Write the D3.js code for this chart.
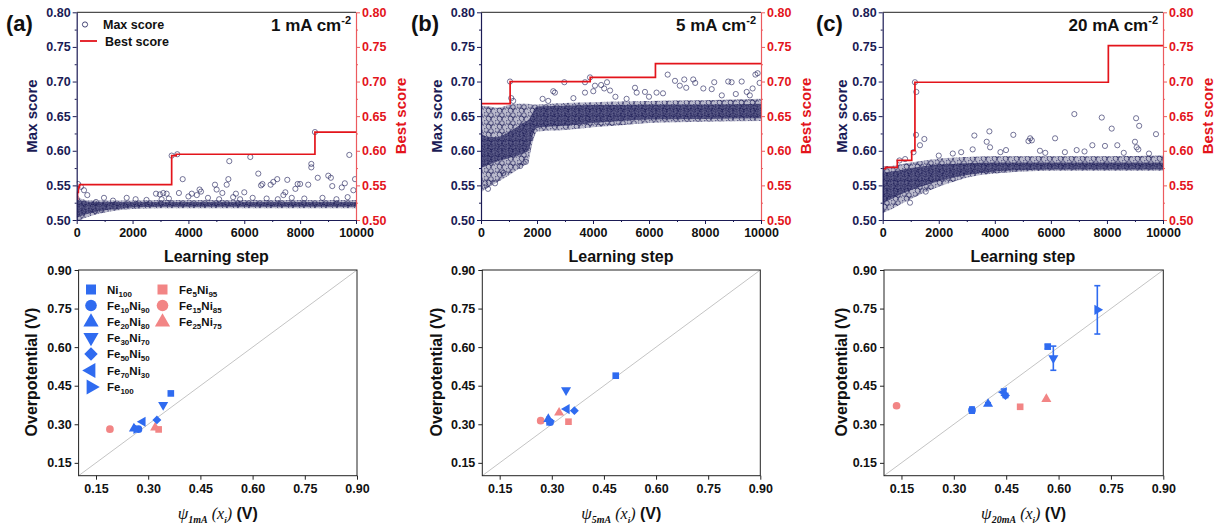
<!DOCTYPE html>
<html>
<head>
<meta charset="utf-8">
<script src="https://cdn.jsdelivr.net/npm/d3@7"></script>
<style>
  body { margin: 0; background: #fff; }
  text { font-family: "Liberation Sans", Arial, sans-serif; font-weight: bold; }
</style>
</head>
<body>
<script>
// ---- top row: learning curves ----
var currents = ["1", "5", "20"];
var panelTags = ["(a)", "(b)", "(c)"];

// dense band of "max score" circles (envelopes)
var bandStepsA = [0, 100, 300, 600, 1000, 1500, 2000, 3000, 6000, 10000];
var spreadLoA = [0.500, 0.500, 0.503, 0.507, 0.511, 0.514, 0.516, 0.517, 0.517, 0.517];
var spreadHiA = [0.540, 0.532, 0.529, 0.528, 0.528, 0.528, 0.528, 0.529, 0.529, 0.529];
var coreLoA = [0.503, 0.505, 0.508, 0.511, 0.514, 0.516, 0.518, 0.519, 0.519, 0.519];
var coreHiA = [0.530, 0.528, 0.527, 0.526, 0.526, 0.526, 0.526, 0.526, 0.526, 0.526];

var bandStepsB = [0, 300, 600, 900, 1200, 1500, 1700, 1800, 1900, 2000, 3000, 4000, 5000, 6000, 8000, 10000];
var spreadLoB = [0.540, 0.548, 0.555, 0.562, 0.570, 0.578, 0.585, 0.605, 0.620, 0.628, 0.630, 0.634, 0.637, 0.640, 0.642, 0.643];
var spreadHiB = [0.665, 0.664, 0.662, 0.665, 0.668, 0.668, 0.668, 0.667, 0.667, 0.667, 0.669, 0.670, 0.671, 0.672, 0.673, 0.675];
var coreLoB = [0.575, 0.580, 0.585, 0.588, 0.592, 0.596, 0.600, 0.615, 0.628, 0.633, 0.636, 0.640, 0.643, 0.645, 0.646, 0.647];
var coreHiB = [0.625, 0.620, 0.620, 0.625, 0.632, 0.640, 0.645, 0.650, 0.660, 0.664, 0.665, 0.666, 0.666, 0.667, 0.667, 0.668];

var bandStepsC = [0, 300, 600, 1000, 1500, 2000, 2500, 3000, 4000, 5000, 6000, 8000, 10000];
var spreadLoC = [0.510, 0.515, 0.522, 0.530, 0.540, 0.548, 0.555, 0.561, 0.567, 0.570, 0.571, 0.571, 0.571];
var spreadHiC = [0.578, 0.578, 0.580, 0.583, 0.586, 0.589, 0.590, 0.591, 0.592, 0.592, 0.592, 0.592, 0.593];
var coreLoC = [0.525, 0.530, 0.536, 0.543, 0.550, 0.556, 0.561, 0.565, 0.570, 0.572, 0.573, 0.573, 0.573];
var coreHiC = [0.568, 0.570, 0.572, 0.575, 0.578, 0.580, 0.581, 0.582, 0.583, 0.583, 0.583, 0.583, 0.583];

// individual circles standing out of the band
var outStepsA = [50, 150, 261, 380, 691, 977, 1300, 1790, 2110, 2500, 2839, 2980, 3040, 3100, 3220, 3300, 3400, 3600, 3660, 3795, 4000, 4120, 4300, 4400, 4450, 4700, 4951, 5010, 5100, 5215, 5370, 5430, 5463, 5600, 5700, 5850, 6000, 6215, 6300, 6502, 6600, 6650, 6800, 6943, 7040, 7180, 7200, 7400, 7470, 7540, 7700, 7830, 7910, 8000, 8150, 8290, 8400, 8400, 8530, 8630, 8800, 9008, 9100, 9150, 9300, 9490, 9600, 9700, 9760, 9905, 9965];
var outValsA = [0.552, 0.548, 0.543, 0.536, 0.526, 0.532, 0.528, 0.532, 0.530, 0.529, 0.538, 0.537, 0.530, 0.539, 0.538, 0.531, 0.593, 0.595, 0.539, 0.559, 0.534, 0.538, 0.536, 0.544, 0.541, 0.532, 0.551, 0.544, 0.530, 0.539, 0.551, 0.559, 0.585, 0.533, 0.538, 0.530, 0.540, 0.591, 0.532, 0.567, 0.550, 0.552, 0.531, 0.551, 0.555, 0.559, 0.530, 0.536, 0.540, 0.558, 0.532, 0.545, 0.552, 0.552, 0.531, 0.551, 0.581, 0.576, 0.627, 0.561, 0.532, 0.564, 0.561, 0.549, 0.530, 0.547, 0.553, 0.533, 0.594, 0.543, 0.559];

var outStepsB = [150, 250, 500, 800, 1036, 1080, 1150, 1400, 1600, 2200, 2400, 2580, 2640, 2976, 3300, 3714, 3714, 3893, 4010, 4070, 4290, 4400, 4500, 4610, 4800, 5200, 5500, 5560, 5856, 6000, 6270, 6500, 6667, 6929, 7100, 7260, 7330, 7580, 7650, 7940, 8240, 8330, 8600, 8830, 8950, 9100, 9310, 9490, 9600, 9700, 9800, 9880, 9950];
var outValsB = [0.553, 0.545, 0.553, 0.568, 0.700, 0.676, 0.672, 0.578, 0.584, 0.675, 0.672, 0.686, 0.684, 0.699, 0.676, 0.699, 0.684, 0.706, 0.686, 0.694, 0.695, 0.690, 0.699, 0.687, 0.678, 0.675, 0.691, 0.684, 0.685, 0.678, 0.684, 0.683, 0.710, 0.701, 0.694, 0.703, 0.691, 0.703, 0.698, 0.690, 0.689, 0.699, 0.680, 0.700, 0.699, 0.682, 0.700, 0.685, 0.680, 0.690, 0.710, 0.712, 0.698];

var outStepsC = [600, 800, 974, 1100, 1150, 1188, 1200, 1330, 1486, 1534, 2000, 2500, 2800, 3210, 3270, 3710, 3806, 3830, 4200, 4400, 4660, 5200, 5260, 5320, 5610, 5800, 6150, 6500, 6837, 6920, 7200, 7480, 7815, 7930, 8170, 8370, 8600, 9000, 9040, 9060, 9120, 9150, 9500, 9750];
var outValsC = [0.586, 0.588, 0.525, 0.598, 0.699, 0.623, 0.685, 0.608, 0.617, 0.541, 0.593, 0.596, 0.598, 0.602, 0.622, 0.613, 0.628, 0.605, 0.598, 0.601, 0.623, 0.614, 0.618, 0.615, 0.600, 0.597, 0.618, 0.598, 0.653, 0.601, 0.599, 0.608, 0.648, 0.607, 0.632, 0.608, 0.597, 0.613, 0.647, 0.605, 0.602, 0.636, 0.596, 0.624];

// best score staircase
var bestStepsA = [0, 30, 60, 100, 3400, 3560, 8530, 10000];
var bestValsA = [0.530, 0.540, 0.547, 0.551, 0.593, 0.595, 0.627, 0.627];
var bestStepsB = [0, 1040, 3900, 6230, 10000];
var bestValsB = [0.668, 0.700, 0.706, 0.726, 0.726];
var bestStepsC = [0, 100, 520, 1035, 1150, 8050, 10000];
var bestValsC = [0.574, 0.576, 0.586, 0.600, 0.699, 0.752, 0.752];

var scoreTicks = [0.50, 0.55, 0.60, 0.65, 0.70, 0.75, 0.80];
var stepTicks = [0, 2000, 4000, 6000, 8000, 10000];

// ---- bottom row: overpotential vs predicted ----
var alloyEl = [["Ni"], ["Fe", "Ni"], ["Fe", "Ni"], ["Fe", "Ni"], ["Fe", "Ni"], ["Fe", "Ni"], ["Fe"], ["Fe", "Ni"], ["Fe", "Ni"], ["Fe", "Ni"]];
var alloySub = [["100"], ["10", "90"], ["20", "80"], ["30", "70"], ["50", "50"], ["70", "30"], ["100"], ["5", "95"], ["15", "85"], ["25", "75"]];
var alloyShape = ["square", "circle", "up", "down", "diamond", "left", "right", "square", "circle", "up"];
var alloyGroup = ["blue", "blue", "blue", "blue", "blue", "blue", "blue", "pink", "pink", "pink"];

var psi1 = [0.365, 0.272, 0.259, 0.343, 0.325, 0.284, 0.266, 0.330, 0.190, 0.320];
var eta1 = [0.420, 0.281, 0.283, 0.375, 0.317, 0.310, 0.282, 0.280, 0.281, 0.287];
var psi5 = [0.484, 0.295, 0.290, 0.341, 0.365, 0.343, 0.293, 0.348, 0.268, 0.321];
var eta5 = [0.489, 0.308, 0.320, 0.433, 0.353, 0.359, 0.313, 0.310, 0.314, 0.345];
var psi20 = [0.569, 0.352, 0.398, 0.585, 0.448, 0.443, 0.711, 0.490, 0.136, 0.565];
var eta20 = [0.602, 0.355, 0.379, 0.557, 0.412, 0.425, 0.745, 0.368, 0.372, 0.398];
var err20 = [0.008, 0.012, 0.005, 0.047, 0.008, 0.012, 0.094, 0, 0, 0];

var vTicks = [0.15, 0.30, 0.45, 0.60, 0.75, 0.90];

var NAVY = "#1b1b55", RED = "#e3141b", REDAXIS = "#ec5a5e";
var BLUE = "#2f6bf0", PINK = "#f28585";

var svg = d3.select("body").append("svg")
    .attr("width", 1221).attr("height", 528);

var defs = svg.append("defs");
var sparse = defs.append("pattern").attr("id", "dotsSparse")
    .attr("patternUnits", "userSpaceOnUse").attr("width", 11).attr("height", 8);
sparse.append("rect").attr("width", 11).attr("height", 8).attr("fill", NAVY).attr("opacity", 0.3);
[[2, 2], [7, 3], [4.5, 6.5], [9.5, 7]].forEach(function (p) {
    sparse.append("circle").attr("cx", p[0]).attr("cy", p[1]).attr("r", 2.3)
        .attr("fill", "none").attr("stroke", NAVY).attr("stroke-width", 0.75).attr("opacity", 0.85);
});
var dense = defs.append("pattern").attr("id", "dotsDense")
    .attr("patternUnits", "userSpaceOnUse").attr("width", 7).attr("height", 5);
dense.append("rect").attr("width", 7).attr("height", 5).attr("fill", NAVY).attr("opacity", 0.75);
[[1.5, 1.5], [5, 3.5]].forEach(function (p) {
    dense.append("circle").attr("cx", p[0]).attr("cy", p[1]).attr("r", 1.8)
        .attr("fill", "none").attr("stroke", "#8a8ab0").attr("stroke-width", 0.5).attr("opacity", 0.7);
});

var topY0 = 12.3, topY1 = 220;

var tops = [
    { x0: 76.7, x1: 356, off: 0, steps: bandStepsA, sLo: spreadLoA, sHi: spreadHiA, cLo: coreLoA, cHi: coreHiA,
      oS: outStepsA, oV: outValsA, bS: bestStepsA, bV: bestValsA, legend: true },
    { x0: 481, x1: 761, off: 405, steps: bandStepsB, sLo: spreadLoB, sHi: spreadHiB, cLo: coreLoB, cHi: coreHiB,
      oS: outStepsB, oV: outValsB, bS: bestStepsB, bV: bestValsB, legend: false },
    { x0: 882.7, x1: 1163, off: 810, steps: bandStepsC, sLo: spreadLoC, sHi: spreadHiC, cLo: coreLoC, cHi: coreHiC,
      oS: outStepsC, oV: outValsC, bS: bestStepsC, bV: bestValsC, legend: false }
];

tops.forEach(function (p, i) {
    var x = d3.scaleLinear().domain([0, 10000]).range([p.x0, p.x1]);
    var y = d3.scaleLinear().domain([0.5, 0.8]).range([topY1, topY0]);
    var g = svg.append("g");

    var clipId = "clipTop" + i;
    defs.append("clipPath").attr("id", clipId).append("rect")
        .attr("x", p.x0).attr("y", topY0).attr("width", p.x1 - p.x0).attr("height", topY1 - topY0);
    var plot = g.append("g").attr("clip-path", "url(#" + clipId + ")");

    var idx = d3.range(p.steps.length);
    var spreadArea = d3.area().x(function (k) { return x(p.steps[k]); })
        .y0(function (k) { return y(p.sLo[k]); }).y1(function (k) { return y(p.sHi[k]); })
        .curve(d3.curveMonotoneX);
    var coreArea = d3.area().x(function (k) { return x(p.steps[k]); })
        .y0(function (k) { return y(p.cLo[k]); }).y1(function (k) { return y(p.cHi[k]); })
        .curve(d3.curveMonotoneX);
    plot.append("path").attr("d", spreadArea(idx)).attr("fill", "url(#dotsSparse)");
    plot.append("path").attr("d", coreArea(idx)).attr("fill", "url(#dotsDense)");

    plot.selectAll("circle.out").data(d3.range(p.oS.length)).enter().append("circle")
        .attr("class", "out")
        .attr("cx", function (k) { return x(p.oS[k]); })
        .attr("cy", function (k) { return y(p.oV[k]); })
        .attr("r", 2.6).attr("fill", "none")
        .attr("stroke", NAVY).attr("stroke-width", 0.8).attr("opacity", 0.75);

    var bestLine = d3.line().x(function (k) { return x(p.bS[k]); })
        .y(function (k) { return y(p.bV[k]); }).curve(d3.curveStepAfter);
    plot.append("path").attr("d", bestLine(d3.range(p.bS.length)))
        .attr("fill", "none").attr("stroke", RED).attr("stroke-width", 1.7);

    // frame top
    g.append("line").attr("x1", p.x0).attr("x2", p.x1).attr("y1", topY0).attr("y2", topY0)
        .attr("stroke", "#222").attr("stroke-width", 1);

    var minorY = [0.525, 0.575, 0.625, 0.675, 0.725, 0.775];
    // left axis
    var gl = g.append("g").attr("transform", "translate(" + p.x0 + ",0)")
        .call(d3.axisLeft(y).tickValues(scoreTicks).tickFormat(d3.format(".2f")).tickSize(4).tickSizeOuter(0));
    g.append("g").attr("transform", "translate(" + p.x0 + ",0)")
        .call(d3.axisLeft(y).tickValues(minorY).tickFormat("").tickSize(2).tickSizeOuter(0))
        .call(function (s) { s.select(".domain").remove(); s.selectAll("line").attr("stroke", NAVY); });
    gl.select(".domain").attr("stroke", NAVY).attr("stroke-width", 1.2);
    gl.selectAll("line").attr("stroke", NAVY);
    gl.selectAll("text").attr("fill", NAVY).style("font-size", "12.5px").attr("x", -6);

    // right axis
    var gr = g.append("g").attr("transform", "translate(" + p.x1 + ",0)")
        .call(d3.axisRight(y).tickValues(scoreTicks).tickFormat(d3.format(".2f")).tickSize(4).tickSizeOuter(0));
    g.append("g").attr("transform", "translate(" + p.x1 + ",0)")
        .call(d3.axisRight(y).tickValues(minorY).tickFormat("").tickSize(2).tickSizeOuter(0))
        .call(function (s) { s.select(".domain").remove(); s.selectAll("line").attr("stroke", REDAXIS); });
    gr.select(".domain").attr("stroke", REDAXIS).attr("stroke-width", 1.2);
    gr.selectAll("line").attr("stroke", REDAXIS);
    gr.selectAll("text").attr("fill", RED).style("font-size", "12.5px").attr("x", 6);

    // bottom axis
    var gb = g.append("g").attr("transform", "translate(0," + topY1 + ")")
        .call(d3.axisBottom(x).tickValues(stepTicks).tickFormat(d3.format("d")).tickSize(4).tickSizeOuter(0));
    g.append("g").attr("transform", "translate(0," + topY1 + ")")
        .call(d3.axisBottom(x).tickValues([1000, 3000, 5000, 7000, 9000]).tickFormat("").tickSize(2).tickSizeOuter(0))
        .call(function (s) { s.select(".domain").remove(); s.selectAll("line").attr("stroke", NAVY); });
    gb.select(".domain").attr("stroke", NAVY).attr("stroke-width", 1.2);
    gb.selectAll("line").attr("stroke", NAVY);
    gb.selectAll("text").attr("fill", "#111").style("font-size", "12.5px").attr("y", 8.5);

    // titles
    g.append("text").attr("x", (p.x0 + p.x1) / 2).attr("y", 262).attr("text-anchor", "middle")
        .style("font-size", "16px").attr("fill", "#111").text("Learning step");
    g.append("text").attr("transform", "translate(" + (p.off + 37) + ",116) rotate(-90)")
        .attr("text-anchor", "middle").style("font-size", "15px").attr("fill", NAVY).text("Max score");
    g.append("text").attr("transform", "translate(" + (p.x1 + 50) + ",116) rotate(-90)")
        .attr("text-anchor", "middle").style("font-size", "15px").attr("fill", RED).text("Best score");
    g.append("text").attr("x", p.off + 6).attr("y", 31).style("font-size", "22px").attr("fill", "#111").text(panelTags[i]);

    var cur = g.append("text").attr("x", p.x1 - 5).attr("y", 31).attr("text-anchor", "end")
        .style("font-size", "17px").attr("fill", "#111");
    cur.append("tspan").text(currents[i] + " mA cm");
    cur.append("tspan").attr("dy", -7).style("font-size", "11px").text("-2");

    if (p.legend) {
        g.append("circle").attr("cx", 85).attr("cy", 24.5).attr("r", 2.6).attr("fill", "none")
            .attr("stroke", NAVY).attr("stroke-width", 0.8);
        g.append("text").attr("x", 103).attr("y", 29).style("font-size", "12.5px").attr("fill", "#111").text("Max score");
        g.append("line").attr("x1", 80).attr("x2", 97).attr("y1", 41).attr("y2", 41)
            .attr("stroke", RED).attr("stroke-width", 1.8);
        g.append("text").attr("x", 105).attr("y", 46).style("font-size", "12.5px").attr("fill", "#111").text("Best score");
    }
});

// ---- bottom row ----
var botY0 = 270, botY1 = 475.7;

function markerPath(shape, size) {
    var tri = d3.symbol().type(d3.symbolTriangle).size(size * 0.8)();
    if (shape === "square") return { d: d3.symbol().type(d3.symbolSquare).size(size * 0.8)(), rot: 0 };
    if (shape === "circle") return { d: d3.symbol().type(d3.symbolCircle).size(size * 0.85)(), rot: 0 };
    if (shape === "diamond") return { d: d3.symbol().type(d3.symbolSquare).size(size * 0.72)(), rot: 45 };
    if (shape === "up") return { d: tri, rot: 0 };
    if (shape === "down") return { d: tri, rot: 180 };
    if (shape === "left") return { d: tri, rot: -90 };
    return { d: tri, rot: 90 };
}

var bots = [
    { x0: 78.6, x1: 357, off: 0, xs: psi1, ys: eta1, errs: null, sub: "1mA", legend: true },
    { x0: 482.3, x1: 760.3, off: 405, xs: psi5, ys: eta5, errs: null, sub: "5mA", legend: false },
    { x0: 884, x1: 1163.3, off: 810, xs: psi20, ys: eta20, errs: err20, sub: "20mA", legend: false }
];

bots.forEach(function (p) {
    var x = d3.scaleLinear().domain([0.10, 0.90]).range([p.x0, p.x1]);
    var y = d3.scaleLinear().domain([0.10, 0.90]).range([botY1, botY0]);
    var g = svg.append("g");

    g.append("line").attr("x1", x(0.10)).attr("y1", y(0.10)).attr("x2", x(0.90)).attr("y2", y(0.90))
        .attr("stroke", "#c4c4c4").attr("stroke-width", 1);

    g.append("rect").attr("x", p.x0).attr("y", botY0).attr("width", p.x1 - p.x0).attr("height", botY1 - botY0)
        .attr("fill", "none").attr("stroke", "#222").attr("stroke-width", 1);

    var ga = g.append("g").attr("transform", "translate(" + p.x0 + ",0)")
        .call(d3.axisLeft(y).tickValues(vTicks).tickFormat(d3.format(".2f")).tickSize(4).tickSizeOuter(0));
    ga.select(".domain").remove();
    ga.selectAll("line").attr("stroke", "#222");
    ga.selectAll("text").attr("fill", "#111").style("font-size", "12.5px").attr("x", -7);
    var gx = g.append("g").attr("transform", "translate(0," + botY1 + ")")
        .call(d3.axisBottom(x).tickValues(vTicks).tickFormat(d3.format(".2f")).tickSize(4).tickSizeOuter(0));
    gx.select(".domain").remove();
    gx.selectAll("line").attr("stroke", "#222");
    gx.selectAll("text").attr("fill", "#111").style("font-size", "12.5px").attr("y", 8);

    if (p.errs) {
        p.errs.forEach(function (e, k) {
            if (!e) return;
            var cx = x(p.xs[k]);
            var col = alloyGroup[k] === "blue" ? BLUE : PINK;
            g.append("line").attr("x1", cx).attr("x2", cx)
                .attr("y1", y(p.ys[k] - e)).attr("y2", y(p.ys[k] + e))
                .attr("stroke", col).attr("stroke-width", 1.6);
            [-e, e].forEach(function (s) {
                g.append("line").attr("x1", cx - 3).attr("x2", cx + 3)
                    .attr("y1", y(p.ys[k] + s)).attr("y2", y(p.ys[k] + s))
                    .attr("stroke", col).attr("stroke-width", 1.6);
            });
        });
    }

    // pink first so the blue ones sit on top
    var order = [7, 8, 9, 0, 1, 2, 3, 4, 5, 6];
    order.forEach(function (k) {
        var m = markerPath(alloyShape[k], 55);
        g.append("path").attr("d", m.d)
            .attr("transform", "translate(" + x(p.xs[k]) + "," + y(p.ys[k]) + ") rotate(" + m.rot + ")")
            .attr("fill", alloyGroup[k] === "blue" ? BLUE : PINK);
    });

    g.append("text").attr("transform", "translate(" + (p.off + 37) + ",372) rotate(-90)")
        .attr("text-anchor", "middle").style("font-size", "16px").attr("fill", "#111").text("Overpotential (V)");

    var t = g.append("text").attr("x", (p.x0 + p.x1) / 2).attr("y", 519).attr("text-anchor", "middle")
        .style("font-size", "16px").attr("fill", "#111");
    t.append("tspan").style("font-family", "'Liberation Serif', serif").style("font-style", "italic")
        .style("font-weight", "normal").style("font-size", "17px").text("\u03C8");
    t.append("tspan").attr("dy", 4).style("font-family", "'Liberation Serif', serif").style("font-style", "italic")
        .style("font-size", "10px").text(p.sub);
    t.append("tspan").attr("dy", -4).style("font-family", "'Liberation Serif', serif").style("font-style", "italic")
        .style("font-weight", "normal").style("font-size", "16px").text(" (x");
    t.append("tspan").attr("dy", 4).style("font-family", "'Liberation Serif', serif").style("font-style", "italic")
        .style("font-size", "9px").text("i");
    t.append("tspan").attr("dy", -4).style("font-family", "'Liberation Serif', serif").style("font-style", "italic")
        .style("font-weight", "normal").style("font-size", "16px").text(")");
    t.append("tspan").style("font-size", "16px").text(" (V)");

    if (p.legend) {
        var rowY = [289.5, 305.5, 322, 337.5, 354, 370.5, 387];
        var cols = [{ mx: 91, tx: 107 }, { mx: 162.5, tx: 179 }];
        alloyEl.forEach(function (els, k) {
            var c = k < 7 ? cols[0] : cols[1];
            var ry = k < 7 ? rowY[k] : rowY[k - 7];
            var m = markerPath(alloyShape[k], 125);
            g.append("path").attr("d", m.d)
                .attr("transform", "translate(" + c.mx + "," + ry + ") rotate(" + m.rot + ")")
                .attr("fill", alloyGroup[k] === "blue" ? BLUE : PINK);
            var lt = g.append("text").attr("x", c.tx).attr("y", ry + 4).style("font-size", "11.5px").attr("fill", "#111");
            els.forEach(function (el, j) {
                lt.append("tspan").attr("dy", j === 0 ? 0 : -3).text(el);
                lt.append("tspan").attr("dy", 3).style("font-size", "8px").text(alloySub[k][j]);
            });
        });
    }
});
</script>
</body>
</html>
